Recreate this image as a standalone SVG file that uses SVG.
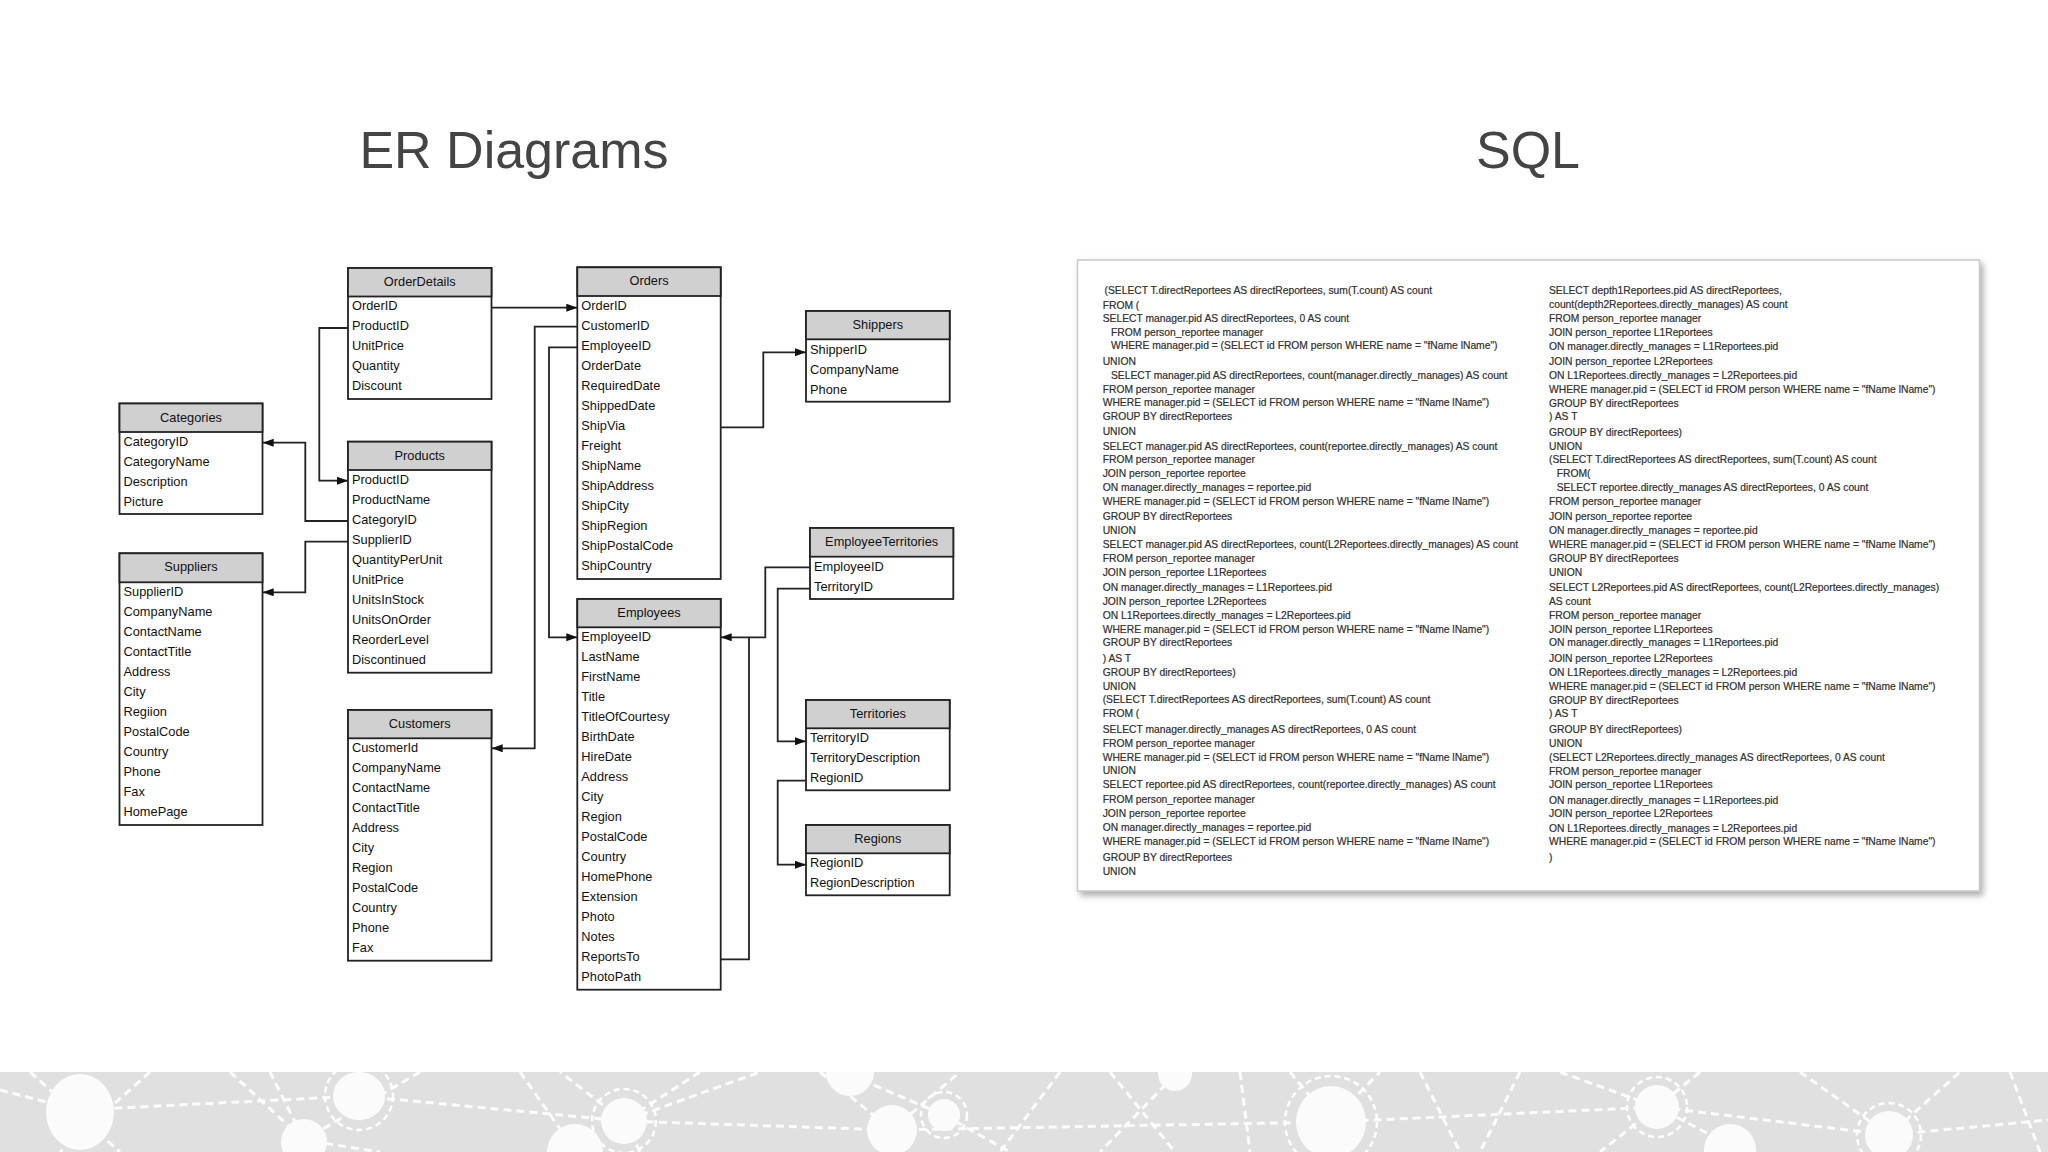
<svg xmlns="http://www.w3.org/2000/svg" width="2048" height="1152" viewBox="0 0 2048 1152">
<defs>
<style>
.box{fill:#fff;stroke:#222;stroke-width:1.8}
.hdr{fill:#d0d0d0;stroke:#222;stroke-width:1.8}
.t{font-family:"Liberation Sans",Arial,sans-serif;font-size:12.8px;fill:#111}
.h{text-anchor:middle}
.title{font-family:"Liberation Sans",Arial,sans-serif;font-size:52px;fill:#444;text-anchor:middle}
.sql{font-family:"Liberation Sans",Arial,sans-serif;font-size:10.3px;fill:#262626;stroke:#444;stroke-width:0.2}
.conn path{fill:none;stroke:#222;stroke-width:1.8}
.bl{fill:none;stroke:#fff;stroke-width:3;stroke-dasharray:8 5;opacity:0.9}
.bn{fill:#fbfbfb}
.br{fill:none;stroke:#fff;stroke-width:2.5;stroke-dasharray:6 4}
</style>
<marker id="arr" markerUnits="userSpaceOnUse" markerWidth="12" markerHeight="10" refX="11" refY="4" orient="auto">
<path d="M0,0 L11,4 L0,8 z" fill="#111"/>
</marker>
<filter id="sh" x="-5%" y="-5%" width="110%" height="112%">
<feDropShadow dx="3" dy="4" stdDeviation="3" flood-color="#777" flood-opacity="0.6"/>
</filter>
<clipPath id="bandclip"><rect x="0" y="1072" width="2048" height="80"/></clipPath>
</defs>
<rect width="2048" height="1152" fill="#fff"/>

<text class="title" x="514" y="168">ER Diagrams</text>
<text class="title" x="1528" y="168">SQL</text>

<g id="connectors" class="conn">
<path d="M348,328 H319.3 V480.7 H348" marker-end="url(#arr)"/>
<path d="M348,521 H305.3 V442.7 H262.7" marker-end="url(#arr)"/>
<path d="M348,541.7 H305.3 V592.3 H262.7" marker-end="url(#arr)"/>
<path d="M491.7,307.7 H577.3" marker-end="url(#arr)"/>
<path d="M577.3,326.7 H534.7 V748.3 H491.7" marker-end="url(#arr)"/>
<path d="M577.3,347.3 H549 V637.3 H577.3" marker-end="url(#arr)"/>
<path d="M720.7,427.3 H763.3 V352.3 H806" marker-end="url(#arr)"/>
<path d="M810,567.3 H765.3 V637.3 H720.7" marker-end="url(#arr)"/>
<path d="M720.7,959.3 H749 V637.3"/>
<path d="M810,588.7 H777.7 V741.3 H806" marker-end="url(#arr)"/>
<path d="M806,780.7 H777.7 V864.7 H806" marker-end="url(#arr)"/>
</g>

<g id="orderdetails">
<rect class="box" x="348" y="268" width="143.5" height="131"/>
<rect class="hdr" x="348" y="268" width="143.5" height="28.5"/>
<text class="t h" x="419.75" y="286">OrderDetails</text>
<text class="t" x="352" y="310">OrderID</text>
<text class="t" x="352" y="330">ProductID</text>
<text class="t" x="352" y="350">UnitPrice</text>
<text class="t" x="352" y="370">Quantity</text>
<text class="t" x="352" y="390">Discount</text>
</g>

<g id="categories">
<rect class="box" x="119.5" y="403.5" width="143" height="110.5"/>
<rect class="hdr" x="119.5" y="403.5" width="143" height="28.5"/>
<text class="t h" x="191" y="421.5">Categories</text>
<text class="t" x="123.5" y="445.5">CategoryID</text>
<text class="t" x="123.5" y="465.5">CategoryName</text>
<text class="t" x="123.5" y="485.5">Description</text>
<text class="t" x="123.5" y="505.5">Picture</text>
</g>

<g id="products">
<rect class="box" x="348" y="441.7" width="143.5" height="231"/>
<rect class="hdr" x="348" y="441.7" width="143.5" height="28.3"/>
<text class="t h" x="419.75" y="459.7">Products</text>
<text class="t" x="352" y="483.5">ProductID</text>
<text class="t" x="352" y="503.5">ProductName</text>
<text class="t" x="352" y="523.5">CategoryID</text>
<text class="t" x="352" y="543.5">SupplierID</text>
<text class="t" x="352" y="563.5">QuantityPerUnit</text>
<text class="t" x="352" y="583.5">UnitPrice</text>
<text class="t" x="352" y="603.5">UnitsInStock</text>
<text class="t" x="352" y="623.5">UnitsOnOrder</text>
<text class="t" x="352" y="643.5">ReorderLevel</text>
<text class="t" x="352" y="663.5">Discontinued</text>
</g>

<g id="suppliers">
<rect class="box" x="119.5" y="553.3" width="143" height="271.7"/>
<rect class="hdr" x="119.5" y="553.3" width="143" height="29"/>
<text class="t h" x="191" y="571.3">Suppliers</text>
<text class="t" x="123.5" y="596">SupplierID</text>
<text class="t" x="123.5" y="616">CompanyName</text>
<text class="t" x="123.5" y="636">ContactName</text>
<text class="t" x="123.5" y="656">ContactTitle</text>
<text class="t" x="123.5" y="676">Address</text>
<text class="t" x="123.5" y="696">City</text>
<text class="t" x="123.5" y="716">Regiion</text>
<text class="t" x="123.5" y="736">PostalCode</text>
<text class="t" x="123.5" y="756">Country</text>
<text class="t" x="123.5" y="776">Phone</text>
<text class="t" x="123.5" y="796">Fax</text>
<text class="t" x="123.5" y="816">HomePage</text>
</g>

<g id="customers">
<rect class="box" x="348" y="710" width="143.5" height="250.7"/>
<rect class="hdr" x="348" y="710" width="143.5" height="28.3"/>
<text class="t h" x="419.75" y="728">Customers</text>
<text class="t" x="352" y="752">CustomerId</text>
<text class="t" x="352" y="772">CompanyName</text>
<text class="t" x="352" y="792">ContactName</text>
<text class="t" x="352" y="812">ContactTitle</text>
<text class="t" x="352" y="832">Address</text>
<text class="t" x="352" y="852">City</text>
<text class="t" x="352" y="872">Region</text>
<text class="t" x="352" y="892">PostalCode</text>
<text class="t" x="352" y="912">Country</text>
<text class="t" x="352" y="932">Phone</text>
<text class="t" x="352" y="952">Fax</text>
</g>

<g id="orders">
<rect class="box" x="577.3" y="267.3" width="143.4" height="311.7"/>
<rect class="hdr" x="577.3" y="267.3" width="143.4" height="28.7"/>
<text class="t h" x="649" y="285.3">Orders</text>
<text class="t" x="581.3" y="310">OrderID</text>
<text class="t" x="581.3" y="330">CustomerID</text>
<text class="t" x="581.3" y="350">EmployeeID</text>
<text class="t" x="581.3" y="370">OrderDate</text>
<text class="t" x="581.3" y="390">RequiredDate</text>
<text class="t" x="581.3" y="410">ShippedDate</text>
<text class="t" x="581.3" y="430">ShipVia</text>
<text class="t" x="581.3" y="450">Freight</text>
<text class="t" x="581.3" y="470">ShipName</text>
<text class="t" x="581.3" y="490">ShipAddress</text>
<text class="t" x="581.3" y="510">ShipCity</text>
<text class="t" x="581.3" y="530">ShipRegion</text>
<text class="t" x="581.3" y="550">ShipPostalCode</text>
<text class="t" x="581.3" y="570">ShipCountry</text>
</g>

<g id="employees">
<rect class="box" x="577.3" y="599" width="143.4" height="390.7"/>
<rect class="hdr" x="577.3" y="599" width="143.4" height="28.3"/>
<text class="t h" x="649" y="617">Employees</text>
<text class="t" x="581.3" y="641">EmployeeID</text>
<text class="t" x="581.3" y="661">LastName</text>
<text class="t" x="581.3" y="681">FirstName</text>
<text class="t" x="581.3" y="701">Title</text>
<text class="t" x="581.3" y="721">TitleOfCourtesy</text>
<text class="t" x="581.3" y="741">BirthDate</text>
<text class="t" x="581.3" y="761">HireDate</text>
<text class="t" x="581.3" y="781">Address</text>
<text class="t" x="581.3" y="801">City</text>
<text class="t" x="581.3" y="821">Region</text>
<text class="t" x="581.3" y="841">PostalCode</text>
<text class="t" x="581.3" y="861">Country</text>
<text class="t" x="581.3" y="881">HomePhone</text>
<text class="t" x="581.3" y="901">Extension</text>
<text class="t" x="581.3" y="921">Photo</text>
<text class="t" x="581.3" y="941">Notes</text>
<text class="t" x="581.3" y="961">ReportsTo</text>
<text class="t" x="581.3" y="981">PhotoPath</text>
</g>

<g id="shippers">
<rect class="box" x="806" y="311" width="143.7" height="90.7"/>
<rect class="hdr" x="806" y="311" width="143.7" height="28.3"/>
<text class="t h" x="877.85" y="329">Shippers</text>
<text class="t" x="810" y="353.5">ShipperID</text>
<text class="t" x="810" y="373.5">CompanyName</text>
<text class="t" x="810" y="393.5">Phone</text>
</g>

<g id="employeeterritories">
<rect class="box" x="810" y="528" width="143.3" height="71"/>
<rect class="hdr" x="810" y="528" width="143.3" height="28.7"/>
<text class="t h" x="881.65" y="546">EmployeeTerritories</text>
<text class="t" x="814" y="570.5">EmployeeID</text>
<text class="t" x="814" y="590.5">TerritoryID</text>
</g>

<g id="territories">
<rect class="box" x="806" y="700" width="143.7" height="90.3"/>
<rect class="hdr" x="806" y="700" width="143.7" height="28.3"/>
<text class="t h" x="877.85" y="718">Territories</text>
<text class="t" x="810" y="742">TerritoryID</text>
<text class="t" x="810" y="762">TerritoryDescription</text>
<text class="t" x="810" y="782">RegionID</text>
</g>

<g id="regions">
<rect class="box" x="806" y="825" width="143.7" height="70.3"/>
<rect class="hdr" x="806" y="825" width="143.7" height="28.3"/>
<text class="t h" x="877.85" y="843">Regions</text>
<text class="t" x="810" y="867">RegionID</text>
<text class="t" x="810" y="887">RegionDescription</text>
</g>

<g id="sql-panel">
<rect x="1077.5" y="260" width="902" height="631" fill="#fff" stroke="#c9c9c9" stroke-width="1.5" filter="url(#sh)"/>
<g class="sql">
<text x="1104.5" y="294.2">(SELECT T.directReportees AS directReportees, sum(T.count) AS count</text>
<text x="1102.7" y="308.5">FROM (</text>
<text x="1102.7" y="321.8">SELECT manager.pid AS directReportees, 0 AS count</text>
<text x="1111" y="335.8">FROM person_reportee manager</text>
<text x="1111" y="349.2">WHERE manager.pid = (SELECT id FROM person WHERE name = "fName lName")</text>
<text x="1102.7" y="364.5">UNION</text>
<text x="1111" y="378.8">SELECT manager.pid AS directReportees, count(manager.directly_manages) AS count</text>
<text x="1102.7" y="392.8">FROM person_reportee manager</text>
<text x="1102.7" y="406.2">WHERE manager.pid = (SELECT id FROM person WHERE name = "fName lName")</text>
<text x="1102.7" y="420.2">GROUP BY directReportees</text>
<text x="1102.7" y="435.2">UNION</text>
<text x="1102.7" y="449.5">SELECT manager.pid AS directReportees, count(reportee.directly_manages) AS count</text>
<text x="1102.7" y="462.8">FROM person_reportee manager</text>
<text x="1102.7" y="477.2">JOIN person_reportee reportee</text>
<text x="1102.7" y="490.8">ON manager.directly_manages = reportee.pid</text>
<text x="1102.7" y="504.8">WHERE manager.pid = (SELECT id FROM person WHERE name = "fName lName")</text>
<text x="1102.7" y="520.2">GROUP BY directReportees</text>
<text x="1102.7" y="533.8">UNION</text>
<text x="1102.7" y="547.5">SELECT manager.pid AS directReportees, count(L2Reportees.directly_manages) AS count</text>
<text x="1102.7" y="561.5">FROM person_reportee manager</text>
<text x="1102.7" y="575.5">JOIN person_reportee L1Reportees</text>
<text x="1102.7" y="590.8">ON manager.directly_manages = L1Reportees.pid</text>
<text x="1102.7" y="605.2">JOIN person_reportee L2Reportees</text>
<text x="1102.7" y="618.5">ON L1Reportees.directly_manages = L2Reportees.pid</text>
<text x="1102.7" y="632.5">WHERE manager.pid = (SELECT id FROM person WHERE name = "fName lName")</text>
<text x="1102.7" y="646.2">GROUP BY directReportees</text>
<text x="1102.7" y="661.8">) AS T</text>
<text x="1102.7" y="675.8">GROUP BY directReportees)</text>
<text x="1102.7" y="689.8">UNION</text>
<text x="1102.7" y="703.2">(SELECT T.directReportees AS directReportees, sum(T.count) AS count</text>
<text x="1102.7" y="717.2">FROM (</text>
<text x="1102.7" y="733.2">SELECT manager.directly_manages AS directReportees, 0 AS count</text>
<text x="1102.7" y="746.8">FROM person_reportee manager</text>
<text x="1102.7" y="760.5">WHERE manager.pid = (SELECT id FROM person WHERE name = "fName lName")</text>
<text x="1102.7" y="774.2">UNION</text>
<text x="1102.7" y="787.8">SELECT reportee.pid AS directReportees, count(reportee.directly_manages) AS count</text>
<text x="1102.7" y="803.2">FROM person_reportee manager</text>
<text x="1102.7" y="817.2">JOIN person_reportee reportee</text>
<text x="1102.7" y="831.2">ON manager.directly_manages = reportee.pid</text>
<text x="1102.7" y="845.2">WHERE manager.pid = (SELECT id FROM person WHERE name = "fName lName")</text>
<text x="1102.7" y="860.5">GROUP BY directReportees</text>
<text x="1102.7" y="874.5">UNION</text>

<text x="1549" y="294.2">SELECT depth1Reportees.pid AS directReportees,</text>
<text x="1549" y="308.2">count(depth2Reportees.directly_manages) AS count</text>
<text x="1549" y="321.8">FROM person_reportee manager</text>
<text x="1549" y="335.8">JOIN person_reportee L1Reportees</text>
<text x="1549" y="349.5">ON manager.directly_manages = L1Reportees.pid</text>
<text x="1549" y="364.8">JOIN person_reportee L2Reportees</text>
<text x="1549" y="378.8">ON L1Reportees.directly_manages = L2Reportees.pid</text>
<text x="1549" y="392.8">WHERE manager.pid = (SELECT id FROM person WHERE name = "fName lName")</text>
<text x="1549" y="406.5">GROUP BY directReportees</text>
<text x="1549" y="420.2">) AS T</text>
<text x="1549" y="435.5">GROUP BY directReportees)</text>
<text x="1549" y="449.5">UNION</text>
<text x="1549" y="462.8">(SELECT T.directReportees AS directReportees, sum(T.count) AS count</text>
<text x="1556.7" y="477.2">FROM(</text>
<text x="1556.7" y="490.8">SELECT reportee.directly_manages AS directReportees, 0 AS count</text>
<text x="1549" y="505.2">FROM person_reportee manager</text>
<text x="1549" y="520.2">JOIN person_reportee reportee</text>
<text x="1549" y="534.2">ON manager.directly_manages = reportee.pid</text>
<text x="1549" y="547.8">WHERE manager.pid = (SELECT id FROM person WHERE name = "fName lName")</text>
<text x="1549" y="561.5">GROUP BY directReportees</text>
<text x="1549" y="575.5">UNION</text>
<text x="1549" y="591.2">SELECT L2Reportees.pid AS directReportees, count(L2Reportees.directly_manages)</text>
<text x="1549" y="605.2">AS count</text>
<text x="1549" y="618.5">FROM person_reportee manager</text>
<text x="1549" y="632.5">JOIN person_reportee L1Reportees</text>
<text x="1549" y="646.2">ON manager.directly_manages = L1Reportees.pid</text>
<text x="1549" y="662.2">JOIN person_reportee L2Reportees</text>
<text x="1549" y="675.8">ON L1Reportees.directly_manages = L2Reportees.pid</text>
<text x="1549" y="689.8">WHERE manager.pid = (SELECT id FROM person WHERE name = "fName lName")</text>
<text x="1549" y="703.5">GROUP BY directReportees</text>
<text x="1549" y="716.8">) AS T</text>
<text x="1549" y="733.2">GROUP BY directReportees)</text>
<text x="1549" y="746.8">UNION</text>
<text x="1549" y="760.5">(SELECT L2Reportees.directly_manages AS directReportees, 0 AS count</text>
<text x="1549" y="774.5">FROM person_reportee manager</text>
<text x="1549" y="788.2">JOIN person_reportee L1Reportees</text>
<text x="1549" y="803.5">ON manager.directly_manages = L1Reportees.pid</text>
<text x="1549" y="817.2">JOIN person_reportee L2Reportees</text>
<text x="1549" y="831.5">ON L1Reportees.directly_manages = L2Reportees.pid</text>
<text x="1549" y="845.2">WHERE manager.pid = (SELECT id FROM person WHERE name = "fName lName")</text>
<text x="1549" y="860.5">)</text>
</g>
</g>

<g id="footer-band" clip-path="url(#bandclip)">
<rect x="0" y="1072" width="2048" height="80" fill="#e0e0e0"/>
<path class="bl" d="M0,1090 L78,1110 L359,1096 L624,1121 L892,1130 L1331,1122 L1657,1107 L1889,1135 L2048,1120"/>
<path class="bl" d="M30,1072 L120,1152 M150,1072 L60,1152 M230,1072 L304,1140 L270,1072 M420,1072 L304,1140 L380,1152"/>
<path class="bl" d="M520,1072 L575,1150 M700,1072 L624,1121 L560,1072 M640,1152 L624,1121 L760,1072"/>
<path class="bl" d="M820,1072 L892,1130 L960,1072 M944,1115 L1010,1152 M850,1075 L944,1115 M1060,1072 L1000,1152"/>
<path class="bl" d="M1110,1072 L1175,1152 M1175,1075 L1100,1152 M1240,1072 L1250,1152 M1290,1072 L1331,1122 L1380,1072 M1420,1072 L1460,1152"/>
<path class="bl" d="M1520,1072 L1480,1152 M1560,1072 L1657,1107 L1600,1152 M1700,1072 L1657,1107 M1730,1145 L1657,1107 M1800,1072 L1889,1135 L1960,1072 M2010,1072 L2040,1152"/>
<ellipse class="bn" cx="80" cy="1112" rx="34" ry="38"/>
<ellipse class="bn" cx="359" cy="1096" rx="26" ry="24"/>
<circle class="br" cx="359" cy="1096" r="34"/>
<circle class="bn" cx="304" cy="1142" r="23"/>
<circle class="bn" cx="624" cy="1121" r="23"/>
<circle class="br" cx="624" cy="1121" r="32"/>
<circle class="bn" cx="575" cy="1152" r="28"/>
<circle class="bn" cx="892" cy="1130" r="25"/>
<circle class="bn" cx="944" cy="1115" r="16"/>
<circle class="br" cx="944" cy="1115" r="23"/>
<circle class="bn" cx="850" cy="1072" r="24"/>
<circle class="bn" cx="1175" cy="1074" r="17"/>
<ellipse class="bn" cx="1331" cy="1122" rx="35" ry="36"/>
<circle class="br" cx="1331" cy="1122" r="46"/>
<circle class="bn" cx="1657" cy="1107" r="22"/>
<circle class="br" cx="1657" cy="1107" r="30"/>
<circle class="bn" cx="1730" cy="1150" r="26"/>
<circle class="bn" cx="1889" cy="1135" r="24"/>
<circle class="br" cx="1889" cy="1135" r="32"/>
</g>
</svg>
